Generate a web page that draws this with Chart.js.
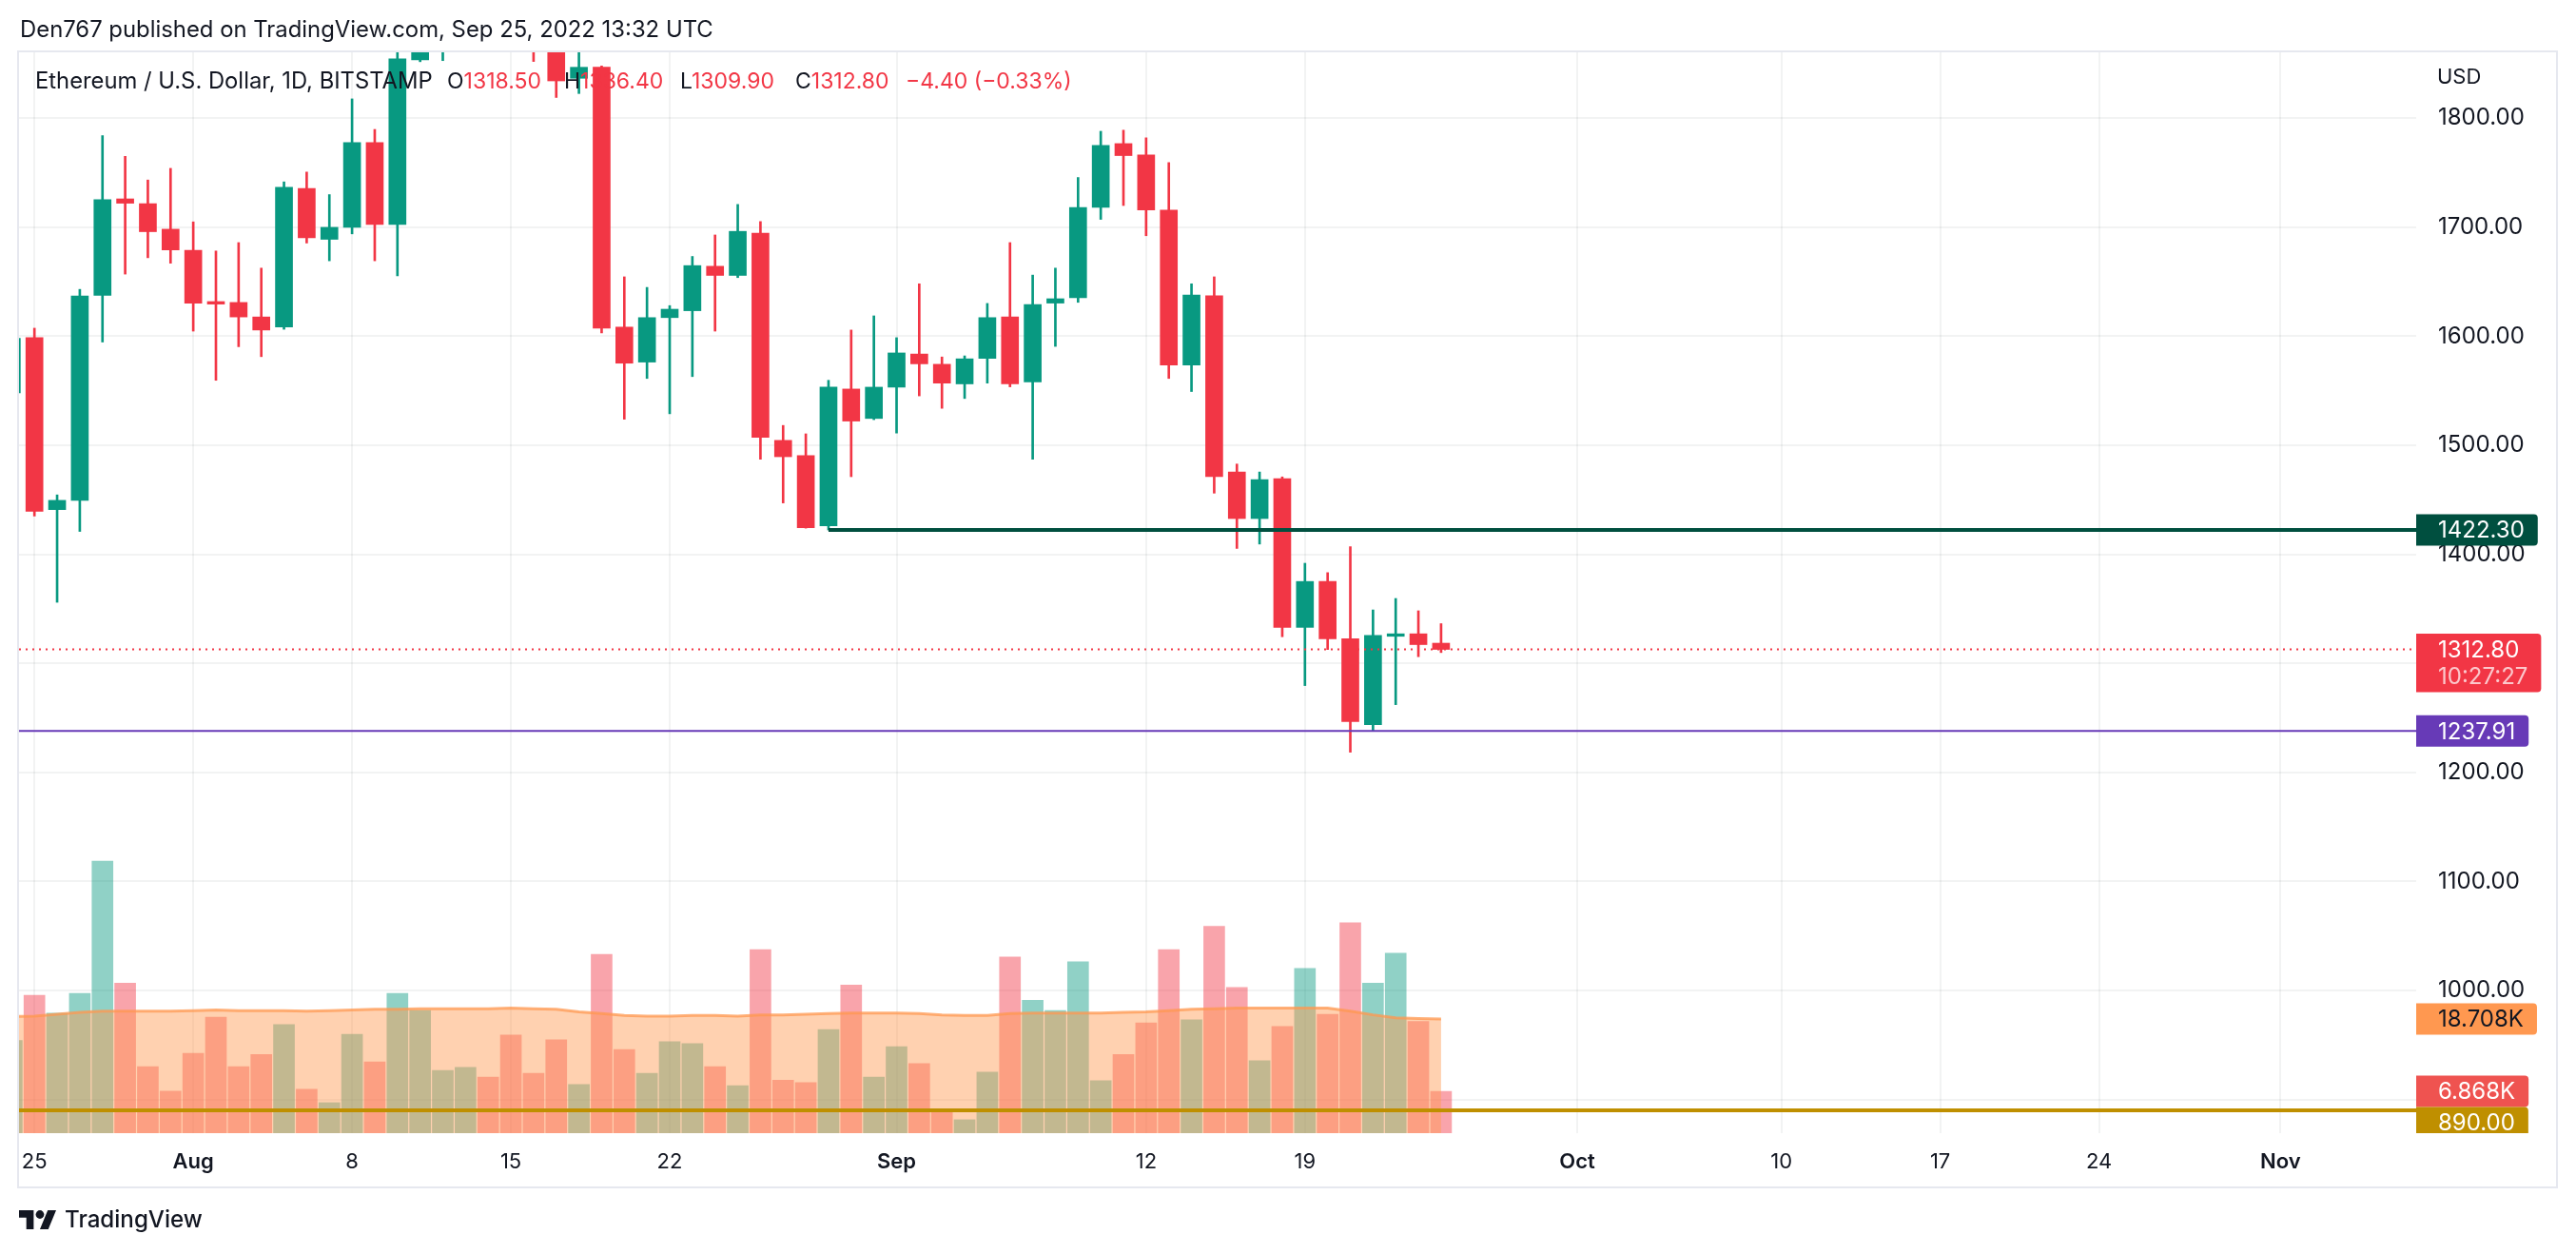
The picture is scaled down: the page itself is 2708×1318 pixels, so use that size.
<!DOCTYPE html>
<html><head><meta charset="utf-8">
<script src="https://cdn.jsdelivr.net/npm/chart.js@4.4.1/dist/chart.umd.min.js"></script>
<style>
html,body{margin:0;padding:0;background:#fff;width:2708px;height:1318px;overflow:hidden;font-family:Inter,"Noto Sans",sans-serif;color:#131722}
#wrap{position:relative;width:2708px;height:1318px}
canvas{position:absolute;left:0;top:0}
.t{position:absolute;white-space:nowrap;height:40px;line-height:40px}
.red{color:#f23645}
</style></head><body>
<div id="wrap">
<canvas id="c" width="2708" height="1318"></canvas>
<div class="t" id="title" style="left:21px;top:11px;font-size:24px">Den767 published on TradingView.com, Sep 25, 2022 13:32 UTC</div>
<div class="t" id="sym" style="left:37px;top:65px;font-size:23px">Ethereum / U.S. Dollar, 1D, BITSTAMP</div>
<div class="t" id="usd" style="left:2562px;top:60px;font-size:22px">USD</div>
<svg style="position:absolute;left:20px;top:1272px" width="39" height="20" viewBox="0 4 35.5 18"><path fill="#131722" d="M14 22H7V11H0V4h14v18zM28 22h-8l7.5-18h8L28 22z"/><circle fill="#131722" cx="20" cy="8" r="4"/></svg>
<div class="t" id="logo" style="left:68px;top:1262px;font-size:26px;font-weight:500">TradingView</div>
</div>
<script>
// ---------- data ----------
const dates = [
 '2022-07-24',
 '2022-07-25','2022-07-26','2022-07-27','2022-07-28','2022-07-29','2022-07-30','2022-07-31',
 '2022-08-01','2022-08-02','2022-08-03','2022-08-04','2022-08-05','2022-08-06','2022-08-07',
 '2022-08-08','2022-08-09','2022-08-10','2022-08-11','2022-08-12','2022-08-13','2022-08-14',
 '2022-08-15','2022-08-16','2022-08-17','2022-08-18','2022-08-19','2022-08-20','2022-08-21',
 '2022-08-22','2022-08-23','2022-08-24','2022-08-25','2022-08-26','2022-08-27','2022-08-28',
 '2022-08-29','2022-08-30','2022-08-31','2022-09-01','2022-09-02','2022-09-03','2022-09-04',
 '2022-09-05','2022-09-06','2022-09-07','2022-09-08','2022-09-09','2022-09-10','2022-09-11',
 '2022-09-12','2022-09-13','2022-09-14','2022-09-15','2022-09-16','2022-09-17','2022-09-18',
 '2022-09-19','2022-09-20','2022-09-21','2022-09-22','2022-09-23','2022-09-24','2022-09-25'];
const openP = [
 1548,
 1598.7,1441.0,1449.5,1637.5,1726.0,1721.6,1698.2,
 1678.8,1631.8,1631.0,1617.7,1608.4,1735.6,1688.9,
 1699.9,1777.7,1702.5,1853.5,1880.0,1957.0,1982.0,
 1935.0,1902.0,1877.0,1836.6,1846.7,1608.4,1576.3,
 1617.1,1623.4,1664.2,1655.8,1694.5,1504.5,1490.5,
 1426.1,1551.6,1524.6,1553.3,1583.7,1574.3,1556.3,
 1579.7,1617.7,1558.0,1630.4,1635.4,1718.2,1776.7,
 1766.3,1715.6,1573.7,1637.1,1475.5,1432.8,1469.3,
 1333.0,1375.1,1322.5,1243.8,1324.8,1327.1,1318.5];
const highP = [
 1640,
 1607.4,1454.5,1643.0,1784.0,1765.0,1743.3,1754.0,
 1704.9,1678.2,1685.9,1662.5,1741.6,1750.6,1729.9,
 1817.7,1789.7,1880.0,1942.0,1960.0,2020.0,2030.0,
 2012.0,1920.0,1960.0,1887.0,1848.0,1654.5,1644.8,
 1628.1,1673.2,1692.9,1720.9,1705.2,1518.2,1510.5,
 1559.6,1605.7,1618.7,1598.7,1648.1,1581.0,1582.0,
 1630.1,1685.9,1656.1,1662.5,1745.6,1788.0,1789.0,
 1782.0,1759.3,1648.1,1654.5,1482.8,1475.5,1471.0,
 1391.8,1383.2,1407.0,1349.0,1359.5,1348.2,1336.4];
const lowP = [
 1530,
 1435.1,1356.0,1421.0,1594.7,1657.0,1672.0,1667.0,
 1604.7,1559.6,1590.4,1581.3,1606.4,1685.5,1669.2,
 1693.9,1669.2,1655.5,1851.8,1852.8,1950.0,1920.0,
 1870.0,1852.0,1819.0,1822.6,1603.0,1523.9,1561.3,
 1528.9,1563.0,1604.7,1653.8,1487.2,1447.1,1424.0,
 1422.3,1471.2,1523.5,1511.2,1545.3,1533.9,1542.9,
 1557.0,1553.6,1487.2,1590.7,1631.1,1707.2,1719.9,
 1692.2,1561.3,1549.3,1456.1,1405.4,1409.4,1324.4,
 1279.6,1312.7,1218.5,1237.91,1262.1,1306.1,1309.9];
const closeP = [
 1598,
 1439.4,1449.5,1637.0,1725.3,1722.0,1695.9,1679.2,
 1630.4,1629.5,1617.7,1605.7,1736.6,1690.2,1699.9,
 1777.7,1702.5,1854.5,1880.0,1957.0,1982.0,1935.0,
 1902.0,1877.0,1834.2,1846.7,1607.4,1575.3,1617.1,
 1624.8,1664.8,1655.8,1696.2,1507.2,1489.5,1424.4,
 1553.3,1522.2,1553.3,1584.7,1574.7,1557.0,1579.3,
 1617.1,1556.3,1629.1,1634.4,1718.2,1775.0,1765.7,
 1715.9,1573.7,1637.8,1471.2,1432.8,1468.5,1333.0,
 1375.1,1322.5,1246.5,1325.6,1327.1,1317.2,1312.8];
const volumeK = [
 15.2,
 22.6,19.7,22.9,44.6,24.6,10.9,6.9,
 13.1,19.0,10.9,12.9,17.8,7.2,5.0,
 16.2,11.7,22.9,20.1,10.3,10.8,9.2,
 16.1,9.8,15.3,8.0,29.3,13.7,9.8,
 15.0,14.7,10.9,7.8,30.1,8.7,8.3,
 17.0,24.3,9.2,14.2,11.4,3.6,2.2,
 10.0,28.9,21.8,20.1,28.1,8.6,12.9,
 18.1,30.1,18.6,33.9,23.9,11.9,17.5,
 27.0,19.5,34.5,24.6,29.5,18.3,6.868];
const volumeMA = [
 19.1,
 19.2,19.5,19.8,20.0,20.0,20.0,20.0,
 20.1,20.2,20.1,20.1,20.1,20.0,20.1,
 20.2,20.3,20.3,20.4,20.4,20.4,20.4,
 20.5,20.4,20.3,19.9,19.6,19.3,19.2,
 19.2,19.3,19.3,19.2,19.4,19.4,19.5,
 19.6,19.7,19.7,19.7,19.6,19.4,19.3,
 19.3,19.6,19.7,19.7,19.7,19.7,19.8,
 19.9,20.1,20.3,20.4,20.5,20.5,20.5,
 20.5,20.5,20.0,19.4,18.9,18.8,18.708];
const priceTicks = [900,1000,1100,1200,1300,1400,1500,1600,1700,1800];
const timeTickDates = ['2022-07-25','2022-08-01','2022-08-08','2022-08-15','2022-08-22','2022-09-01','2022-09-12','2022-09-19','2022-10-01','2022-10-10','2022-10-17','2022-10-24','2022-11-01'];
const timeTickLabels = ['25','Aug','8','15','22','Sep','12','19','Oct','10','17','24','Nov'];
const monthLabels = ['Aug','Sep','Oct','Nov'];
const levelValues = [1422.30, 1312.80, 1237.91, 890.00];
const levelFrom = ['2022-08-29', null, null, null];
const countdown = '10:27:27';
const maLast = 18.708, volLast = 6.868;

// ---------- helpers ----------
const T0 = Date.parse('2022-07-25T00:00:00Z');
const dayIndex = d => Math.round((Date.parse(d + 'T00:00:00Z') - T0) / 86400000);
const idx = dates.map(dayIndex);
const up = idx.map((_, i) => closeP[i] >= openP[i]);
const GREEN = '#089981', RED = '#f23645';
const X_MIN = -0.679, X_MAX = 104.98, Y_MIN = 869.1, Y_MAX = 1860.4, V_MAX = 177.2;
const FONT = "Inter, 'Noto Sans', sans-serif";

// legend
const n = closeP.length - 1;
const chg = closeP[n] - closeP[n - 1];
const pct = chg / closeP[n - 1] * 100;
const fmt = v => v.toFixed(2);
const neg = s => s.replace('-', '\u2212');
const legendParts = [
  ['O', fmt(openP[n]), 470], ['H', fmt(highP[n]), 593], ['L', fmt(lowP[n]), 715], ['C', fmt(closeP[n]), 836],
  ['', neg(chg.toFixed(2)) + ' (' + neg(pct.toFixed(2)) + '%)', 952]
];
const wrap = document.getElementById('wrap');
legendParts.forEach(p => {
  const d = document.createElement('div');
  d.className = 't';
  d.style.left = p[2] + 'px'; d.style.top = '65px'; d.style.fontSize = '23px';
  d.innerHTML = (p[0] ? '<span>' + p[0] + '</span>' : '') + '<span class="red">' + p[1] + '</span>';
  wrap.appendChild(d);
});
function fitWidth(id, w) {
  const el = document.getElementById(id);
  const cur = el.getBoundingClientRect().width;
  const fs = parseFloat(getComputedStyle(el).fontSize);
  el.style.fontSize = (fs * w / cur) + 'px';
}
fitWidth('title', 729); fitWidth('sym', 418); fitWidth('logo', 145);

// ---------- plugins ----------
const axisTags = [
  {axis: 'y', value: levelValues[0], lines: [fmt(levelValues[0])], bg: '#004f3f', fg: ['#ffffff']},
  {axis: 'y', value: levelValues[1], lines: [fmt(levelValues[1]), countdown], bg: '#f23645', fg: ['#ffffff', 'rgba(255,255,255,0.72)']},
  {axis: 'y', value: levelValues[2], lines: [fmt(levelValues[2])], bg: '#673ab7', fg: ['#ffffff']},
  {axis: 'y2', value: maLast, lines: [maLast.toFixed(3) + 'K'], bg: '#ff9850', fg: ['#131722']},
  {axis: 'y2', value: volLast, lines: [volLast.toFixed(3) + 'K'], bg: '#ef5350', fg: ['#ffffff']},
  {axis: 'y', value: levelValues[3], lines: [fmt(levelValues[3])], bg: '#bf8f00', fg: ['#ffffff']}
];
const tagPlugin = {
  id: 'tags',
  afterDraw(chart) {
    const ctx = chart.ctx, a = chart.chartArea;
    ctx.save();
    ctx.beginPath(); ctx.rect(a.right, a.top, 170, a.bottom - a.top); ctx.clip();
    ctx.font = '24px ' + FONT;
    const items = axisTags.map(t => Object.assign({}, t, {c: chart.scales[t.axis].getPixelForValue(t.value)})).sort((p, q) => p.c - q.c);
    let prev = -Infinity;
    items.forEach(it => {
      const h = 33 + (it.lines.length - 1) * 28.5;
      let top = it.c - 16.5;
      if (top < prev) top = prev;
      const tw = Math.max(...it.lines.map(l => ctx.measureText(l).width));
      const w = 23 + tw + 14, x = a.right, r = 4;
      ctx.fillStyle = it.bg;
      ctx.beginPath();
      ctx.moveTo(x, top); ctx.lineTo(x + w - r, top); ctx.arcTo(x + w, top, x + w, top + r, r);
      ctx.lineTo(x + w, top + h - r); ctx.arcTo(x + w, top + h, x + w - r, top + h, r);
      ctx.lineTo(x, top + h); ctx.closePath(); ctx.fill();
      ctx.textBaseline = 'middle'; ctx.textAlign = 'left';
      it.lines.forEach((l, k) => { ctx.fillStyle = it.fg[k]; ctx.fillText(l, x + 23, top + 17.5 + k * 28.5); });
      prev = top + h;
    });
    ctx.restore();
  }
};
const framePlugin = {
  id: 'frame',
  afterDraw(chart) {
    const ctx = chart.ctx;
    ctx.save();
    ctx.strokeStyle = '#e6e8ef'; ctx.lineWidth = 2;
    ctx.strokeRect(19, 54, 2669, 1194);
    ctx.restore();
  }
};

// ---------- chart ----------
const levelStyles = [
  {color: '#004f3f', width: 4, dash: []},
  {color: '#f23645', width: 2, dash: [2, 5]},
  {color: '#673ab7', width: 2, dash: []},
  {color: '#bf8f00', width: 4, dash: []}
];
const levelSets = levelValues.map((v, k) => ({
  type: 'line',
  data: [{x: levelFrom[k] ? dayIndex(levelFrom[k]) : X_MIN, y: v}, {x: X_MAX, y: v}],
  borderColor: levelStyles[k].color, borderWidth: levelStyles[k].width, borderDash: levelStyles[k].dash,
  pointRadius: 0, yAxisID: 'y', order: 1, clip: 0, fill: false
}));

Chart.defaults.font.family = FONT;
new Chart(document.getElementById('c'), {
  type: 'bar',
  data: {
    datasets: [
      ...levelSets,
      {type: 'bar', data: idx.map((x, i) => ({x, y: [openP[i], closeP[i]]})),
       backgroundColor: idx.map((_, i) => up[i] ? GREEN : RED), barThickness: 18, grouped: false,
       yAxisID: 'y', order: 2, clip: 0, borderWidth: 0},
      {type: 'bar', data: idx.map((x, i) => ({x, y: [lowP[i], highP[i]]})),
       backgroundColor: idx.map((_, i) => up[i] ? GREEN : RED), barThickness: 2, grouped: false,
       yAxisID: 'y', order: 3, clip: 0, borderWidth: 0},
      {type: 'line', data: idx.map((x, i) => ({x, y: volumeMA[i]})), yAxisID: 'y2', fill: 'origin',
       backgroundColor: 'rgba(255,152,80,0.45)', borderColor: 'rgba(255,152,80,0.75)', borderWidth: 3,
       pointRadius: 0, order: 5, clip: 0, tension: 0},
      {type: 'bar', data: idx.map((x, i) => ({x, y: volumeK[i]})),
       backgroundColor: idx.map((_, i) => up[i] ? 'rgba(8,153,129,0.45)' : 'rgba(242,54,69,0.45)'),
       barThickness: 22, grouped: false, yAxisID: 'y2', order: 6, clip: 0, borderWidth: 0}
    ]
  },
  options: {
    responsive: false, animation: false, events: [],
    layout: {padding: {left: 20, right: 21, top: 55, bottom: 70}},
    plugins: {legend: {display: false}, tooltip: {enabled: false}},
    scales: {
      x: {
        type: 'linear', min: X_MIN, max: X_MAX, offset: false,
        grid: {offset: false, color: 'rgba(42,46,57,0.06)', lineWidth: 2, drawTicks: false},
        border: {display: false},
        afterBuildTicks: s => { s.ticks = timeTickDates.map(d => ({value: dayIndex(d)})); },
        afterFit: s => { s.height = 57; },
        ticks: {
          autoSkip: false, maxRotation: 0, padding: 17, color: '#131722',
          font: c => ({size: 22, family: FONT, weight: (c.tick && monthLabels.includes(c.tick.label)) ? '600' : '400'}),
          callback: (v, i) => timeTickLabels[i]
        }
      },
      y: {
        type: 'linear', position: 'right', min: Y_MIN, max: Y_MAX, beginAtZero: false,
        grid: {color: 'rgba(42,46,57,0.06)', lineWidth: 2, drawTicks: false},
        border: {display: false},
        afterBuildTicks: s => { s.ticks = priceTicks.map(v => ({value: v})); },
        afterFit: s => { s.width = 147; },
        ticks: {padding: 23, color: '#131722', font: {size: 24, family: FONT}, callback: v => Number(v).toFixed(2)}
      },
      y2: {type: 'linear', display: false, min: 0, max: V_MAX, beginAtZero: true}
    }
  },
  plugins: [tagPlugin, framePlugin]
});
</script>
</body></html>
